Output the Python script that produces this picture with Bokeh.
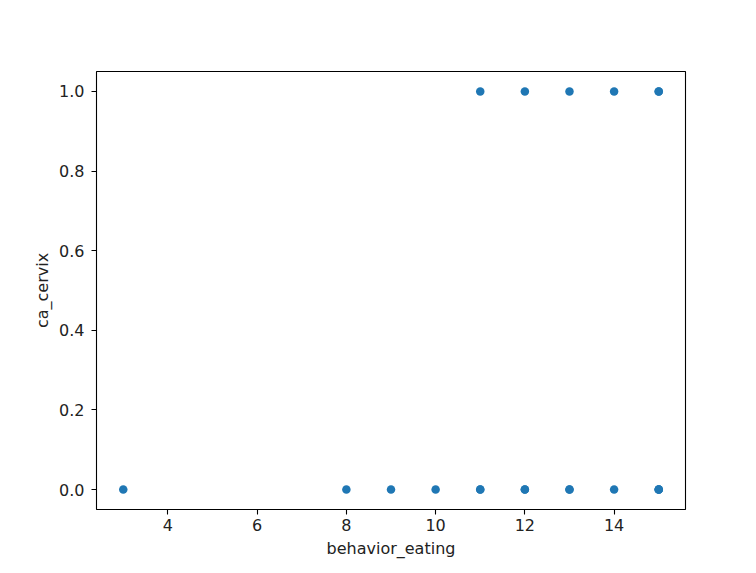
from bokeh.plotting import figure
from bokeh.models import FixedTicker, PrintfTickFormatter, Range1d
from bokeh.embed import file_html
from bokeh.resources import INLINE

behavior_eating = [3, 8, 9, 10, 11, 11, 12, 12, 13, 13, 14, 15, 15, 15,
                   11, 12, 13, 14, 15, 15]
ca_cervix = [0, 0, 0, 0, 0, 0, 0, 0, 0, 0, 0, 0, 0, 0,
             1, 1, 1, 1, 1, 1]
x_ticks = [4, 6, 8, 10, 12, 14]
y_ticks = [0.0, 0.2, 0.4, 0.6, 0.8, 1.0]

p = figure(width=740, height=560, output_backend="svg", toolbar_location=None,
           x_range=Range1d(2.4, 15.6), y_range=Range1d(-0.05, 1.05),
           min_border_left=96, min_border_right=55, min_border_top=71,
           min_border_bottom=50)

p.scatter(behavior_eating, ca_cervix, size=8.5, color="#1f77b4", line_width=0)

p.xgrid.visible = False
p.ygrid.visible = False
p.outline_line_color = "black"
p.outline_line_width = 1.1
p.background_fill_color = "white"
p.border_fill_color = "white"

for ax in (p.xaxis[0], p.yaxis[0]):
    ax.axis_line_color = None
    ax.major_tick_in = 0
    ax.major_tick_out = 5
    ax.major_tick_line_color = "black"
    ax.major_tick_line_width = 1.1
    ax.minor_tick_line_color = None
    ax.major_label_text_font = "DejaVu Sans"
    ax.major_label_text_font_size = "16px"
    ax.major_label_text_color = "#222222"
    ax.axis_label_text_font = "DejaVu Sans"
    ax.axis_label_text_font_size = "16px"
    ax.axis_label_text_font_style = "normal"
    ax.axis_label_text_color = "#222222"

p.xaxis.major_label_standoff = 4
p.xaxis.axis_label_standoff = 5
p.yaxis.major_label_standoff = 7
p.yaxis.axis_label_standoff = 4

p.xaxis.ticker = FixedTicker(ticks=x_ticks)
p.yaxis.ticker = FixedTicker(ticks=y_ticks)
p.yaxis.formatter = PrintfTickFormatter(format="%.1f")
p.xaxis.axis_label = "behavior_eating"
p.yaxis.axis_label = "ca_cervix"

open("out.html", "w").write(file_html(p, INLINE))
